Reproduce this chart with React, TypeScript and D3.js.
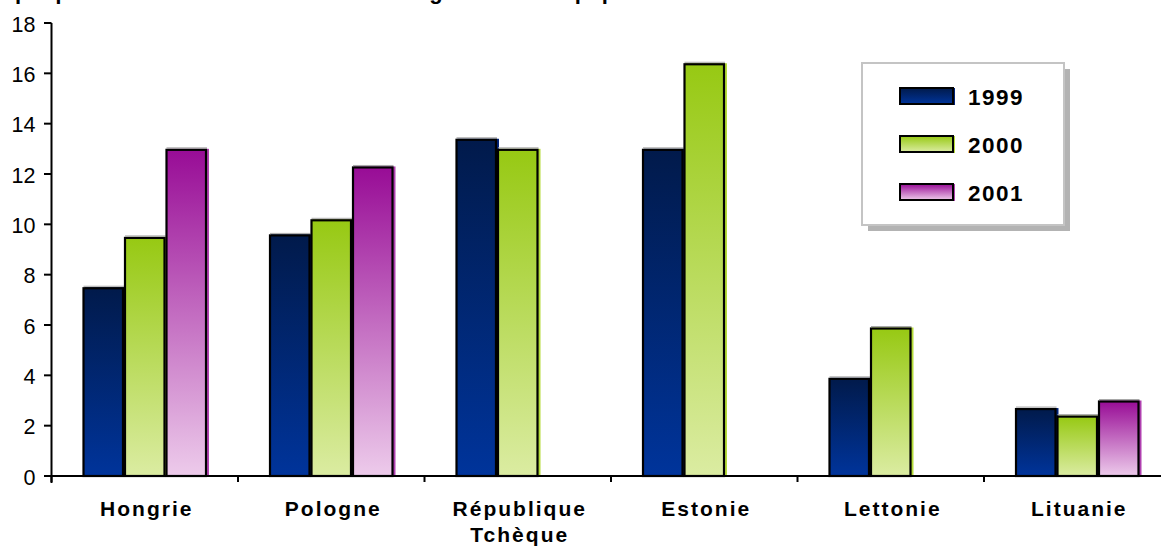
import React from "react";
import * as d3 from "d3";

// Categories and series
const countries = ["Hongrie", "Pologne", "République Tchèque", "Estonie", "Lettonie", "Lituanie"];
const years = ["1999", "2000", "2001"];
const values1999 = [7.5, 9.6, 13.4, 13.0, 3.9, 2.7];
const values2000 = [9.5, 10.2, 13.0, 16.4, 5.9, 2.4];
const values2001: (number | null)[] = [13.0, 12.3, null, null, null, 3.0];
const yTicks = [0, 2, 4, 6, 8, 10, 12, 14, 16, 18];

const seriesValues: (number | null)[][] = [values1999, values2000, values2001];

// Vertical gradient stops per year: [top, bottom]
const gradientStops: Record<string, [string, string]> = {
  "1999": ["#011a4b", "#00349b"],
  "2000": ["#97c913", "#dbeca2"],
  "2001": ["#980c96", "#edcbeb"],
};
const edgeColors: Record<string, string> = {
  "1999": "#01237a",
  "2000": "#b5dc3a",
  "2001": "#b040b0",
};

const W = 1161;
const H = 547;
const FONT = "Arial, 'Liberation Sans', Helvetica, sans-serif";

export default function App() {
  const x = d3.scaleBand<string>().domain(countries).range([51.5, 51.5 + 6 * 186.5]).padding(0);
  const xs = d3.scaleBand<string>().domain(years).range([31, 31 + 3 * 41.5]).padding(0);
  const y = d3.scaleLinear().domain([0, 18]).range([476, 23]);

  const bars: { key: string; year: string; x: number; y: number; w: number; h: number }[] = [];
  countries.forEach((c, ci) => {
    years.forEach((yr, si) => {
      const v = seriesValues[si][ci];
      if (v == null) return;
      const bx = (x(c) ?? 0) + (xs(yr) ?? 0);
      bars.push({ key: `${c}-${yr}`, year: yr, x: bx, y: y(v), w: xs.bandwidth(), h: y(0) - y(v) });
    });
  });

  const boundaries = d3.range(countries.length + 1).map((i) => 51.5 + i * x.step());

  const legendX = 862;
  const legendY = 63;
  const legendW = 202;
  const legendH = 162;

  return (
    <svg
      width={W}
      height={H}
      style={{ position: "absolute", left: 0, top: 0, background: "#ffffff" }}
      fontFamily={FONT}
    >
      <defs>
        {years.map((yr) => (
          <linearGradient key={yr} id={`grad-${yr}`} x1="0" y1="0" x2="0" y2="1">
            <stop offset="0%" stopColor={gradientStops[yr][0]} />
            <stop offset="100%" stopColor={gradientStops[yr][1]} />
          </linearGradient>
        ))}
      </defs>

      {/* title, sitting above the top edge of the chart area */}
      <text x={-23} y={-1} fontSize={22} fontWeight="bold" fill="#000">
        Graphique 1 : Évolution des taux de chômage en % de la population
      </text>

      {/* bars */}
      {bars.map((b) => (
        <g key={b.key}>
          <rect x={b.x + 2} y={b.y} width={b.w} height={b.h} fill={edgeColors[b.year]} />
          <rect x={b.x + 1} y={b.y - 1.5} width={b.w - 1} height={1} fill="#a8a8a8" />
          <rect
            x={b.x + 1}
            y={b.y + 1}
            width={b.w - 2}
            height={b.h - 1}
            fill={`url(#grad-${b.year})`}
            stroke="#000"
            strokeWidth={2.2}
          />
        </g>
      ))}

      {/* y axis */}
      <line x1={51.5} x2={51.5} y1={y(18)} y2={y(0) + 7} stroke="#000" strokeWidth={2} />
      {yTicks.map((t) => (
        <g key={t}>
          <line x1={44} x2={51.5} y1={y(t)} y2={y(t)} stroke="#000" strokeWidth={2} />
          <text x={35.5} y={y(t) + 8.5} textAnchor="end" fontSize={21.5} fill="#000">
            {t}
          </text>
        </g>
      ))}

      {/* x axis */}
      <line x1={51.5} x2={W} y1={y(0)} y2={y(0)} stroke="#000" strokeWidth={2} />
      {boundaries.map((bx, i) => (
        <line key={i} x1={bx} x2={bx} y1={y(0)} y2={y(0) + 6} stroke="#000" strokeWidth={2} />
      ))}
      {countries.map((c) => {
        const cx = (x(c) ?? 0) + x.bandwidth() / 2 + 2;
        const words = c === "République Tchèque" ? ["République", "Tchèque"] : [c];
        return (
          <text key={c} x={cx} y={516} textAnchor="middle" fontSize={21} fontWeight="bold" letterSpacing={2} fill="#000">
            {words.map((w, i) => (
              <tspan key={w} x={cx} dy={i === 0 ? 0 : 26}>
                {w}
              </tspan>
            ))}
          </text>
        );
      })}

      {/* legend */}
      <rect x={legendX + 6} y={legendY + 6} width={legendW} height={legendH} fill="#b3b3b3" />
      <rect x={legendX} y={legendY} width={legendW} height={legendH} fill="#fff" stroke="#c4c4c4" strokeWidth={2} />
      {years.map((yr, i) => {
        const sy = legendY + 25 + i * 48;
        return (
          <g key={yr}>
            <rect x={901} y={sy} width={54} height={17} fill={edgeColors[yr]} />
            <rect x={900} y={sy} width={53} height={16} fill={`url(#grad-${yr})`} stroke="#000" strokeWidth={2} />
            <text x={968} y={sy + 16.5} fontSize={22.5} fontWeight="bold" letterSpacing={1.5} fill="#000">
              {yr}
            </text>
          </g>
        );
      })}
    </svg>
  );
}
